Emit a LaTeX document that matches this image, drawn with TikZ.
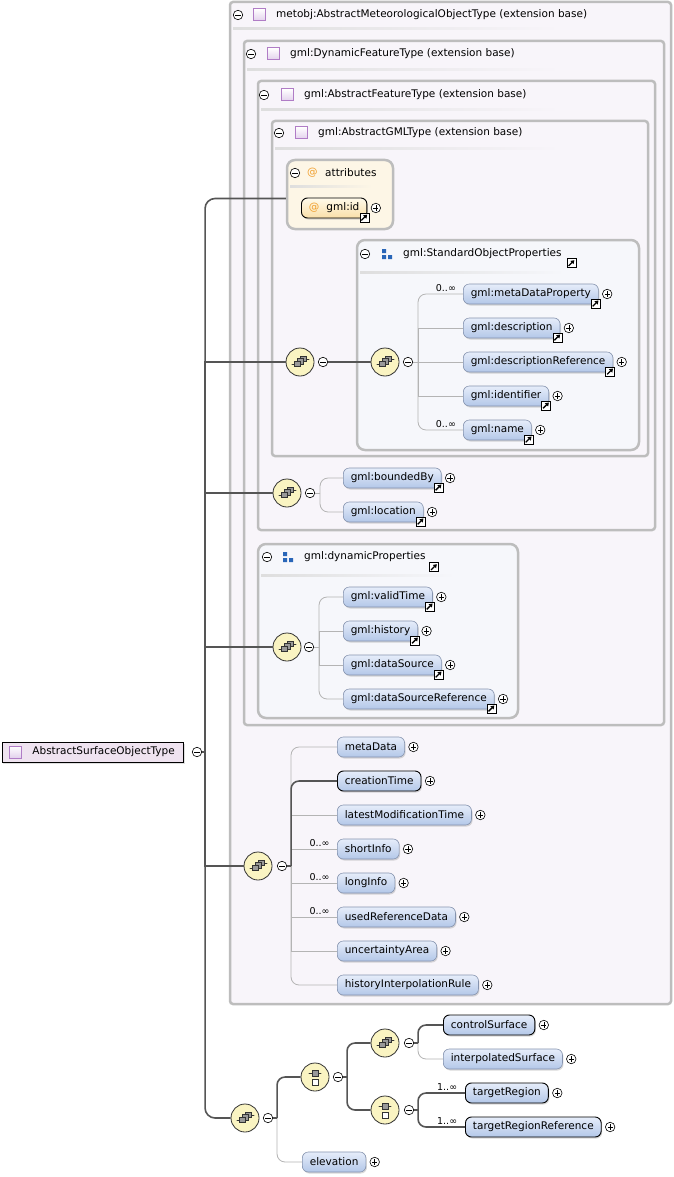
\documentclass[tikz,border=0pt]{standalone}
\usepackage{fontspec}
\setmainfont{DejaVu Sans}
\usetikzlibrary{shadows,arrows.meta}

\definecolor{boxfill}{HTML}{F8F5FA}
\definecolor{boxline}{HTML}{BDBDBD}
\definecolor{grpfill}{HTML}{F6F7FB}
\definecolor{attrfill}{HTML}{FDF6E6}
\definecolor{elemtop}{HTML}{E6EDFA}
\definecolor{elembot}{HTML}{B3C7E8}
\definecolor{elemline}{HTML}{8593AE}
\definecolor{idtop}{HTML}{FFFAEA}
\definecolor{idbot}{HTML}{FADFA8}
\definecolor{seqfill}{HTML}{FAF4C2}
\definecolor{typeline}{HTML}{B07CC6}
\definecolor{typefill}{HTML}{E2D0EC}
\definecolor{rootfill}{HTML}{EFE3F0}
\definecolor{grpblue}{HTML}{2966B8}
\definecolor{attrorange}{HTML}{F0A030}
\definecolor{reqline}{HTML}{555555}
\definecolor{optline}{HTML}{B4B4B4}

\begin{document}
\begin{tikzpicture}[x=1pt, y=-1pt, font=\fontsize{10.5}{12.6}\selectfont,
    cbox/.style={draw=boxline, line width=2.5pt, fill=boxfill, rounded corners=3pt, inner sep=0pt},
    gbox/.style={cbox, fill=grpfill, rounded corners=8pt},
    abox/.style={cbox, fill=attrfill, rounded corners=8pt},
    hdr/.style={anchor=west, inner sep=0pt},
    rootbox/.style={anchor=west, draw=black, line width=0.8pt, fill=rootfill, minimum height=20pt,
        inner xsep=9pt, inner ysep=0pt, drop shadow={shadow xshift=1pt, shadow yshift=-1.5pt, opacity=0.25}},
    elem/.style={anchor=west, draw=elemline, line width=0.6pt, rounded corners=6pt, top color=elemtop,
        bottom color=elembot, minimum height=20pt, inner xsep=7.5pt, inner ysep=0pt,
        drop shadow={shadow xshift=1pt, shadow yshift=-1.5pt, opacity=0.3}},
    reqelem/.style={elem, draw=black, line width=0.9pt},
    idelem/.style={reqelem, top color=idtop, bottom color=idbot},
    typeicon/.style={draw=typeline, line width=1pt, top color=white, bottom color=typefill,
        minimum size=12pt, inner sep=0pt},
    grpicon/.style={minimum size=12pt, inner sep=0pt, path picture={
        \begin{scope}[shift={(path picture bounding box.center)}, x=1pt, y=1pt]
          \fill[grpblue] (-5,1) rectangle (-1,5) (-5,-5) rectangle (-1,-1) (1,-5) rectangle (5,-1);
        \end{scope}}},
    pm/.style={circle, draw=black, line width=0.6pt, fill=white, minimum size=9.5pt, inner sep=0pt},
    plusmark/.style={pm, path picture={
        \begin{scope}[shift={(path picture bounding box.center)}, x=1pt, y=1pt]
          \draw[line width=0.6pt] (-2.6,0) -- (2.6,0) (0,-2.6) -- (0,2.6);
        \end{scope}}},
    minusmark/.style={pm, path picture={
        \begin{scope}[shift={(path picture bounding box.center)}, x=1pt, y=1pt]
          \draw[line width=0.7pt] (-2.6,0) -- (2.6,0);
        \end{scope}}},
    refmark/.style={draw=black, line width=0.6pt, fill=white, minimum size=9pt, inner sep=0pt, path picture={
        \begin{scope}[shift={(path picture bounding box.center)}, x=1pt, y=1pt]
          \draw[line width=1.3pt, -{Triangle[length=3.4pt, width=4.4pt]}] (-3,-3) -- (2.8,2.8);
        \end{scope}}},
    icon/.style={circle, draw=black!80, line width=0.8pt, fill=seqfill, minimum size=28pt, inner sep=0pt},
    seqicon/.style={icon, path picture={
        \begin{scope}[shift={(path picture bounding box.center)}, x=1pt, y=1pt]
          \draw[line width=0.6pt] (-9,-2) -- (-5,-2) (6,3) -- (10,3);
          \fill (-9,-2) circle (1.1) (10,3) circle (1.1);
          \draw[fill=black!40, line width=0.4pt] (0.5,0.5) rectangle ++(5.5,5.5);
          \draw[fill=black!40, line width=0.4pt] (-2.5,-2) rectangle ++(5.5,5.5);
          \draw[fill=black!40, line width=0.4pt] (-5.5,-4.5) rectangle ++(5.5,5.5);
        \end{scope}}},
    choiceicon/.style={icon, path picture={
        \begin{scope}[shift={(path picture bounding box.center)}, x=1pt, y=1pt]
          \draw[line width=0.6pt] (-7,4) -- (7,4);
          \fill (-7,4) circle (1.1) (7,4) circle (1.1);
          \draw[fill=black!40, line width=0.4pt] (-2.7,1.3) rectangle (2.7,6.7);
          \draw[fill=white, line width=0.5pt] (-3,-8) rectangle (3,-2.5);
        \end{scope}}},
    card/.style={font=\fontsize{9.5}{10}\selectfont, inner sep=2.2pt, pos=0.81, above},
    req/.style={draw=reqline, line width=1.6pt},
    opt/.style={draw=optline, line width=0.8pt}]

  \path[use as bounding box, fill=white] (0,0) rectangle (673,1177);

  % extension bases
  \node[cbox, minimum width=441pt, minimum height=1002pt] (metobj) at (450.5,503) {};
  \node[cbox, minimum width=420pt, minimum height=684pt] (dynFeat) at (454,383) {};
  \node[cbox, minimum width=397pt, minimum height=449pt] (absFeat) at (456.5,305.5) {};
  \node[cbox, minimum width=376pt, minimum height=335pt] (absGML) at (460,288.5) {};
  \node[abox, minimum width=106pt, minimum height=69pt] (attr) at (340,194.5) {};
  \node[gbox, minimum width=282pt, minimum height=210pt] (stdProps) at (498,345) {};
  \node[gbox, minimum width=260pt, minimum height=174pt] (dynProps) at (388,631) {};

  \shade[left color=black!13, right color=boxfill] (233,27.5) rectangle (560,29.5);
  \shade[left color=black!13, right color=boxfill] (247,68.5) rectangle (560,70.5);
  \shade[left color=black!13, right color=boxfill] (261,108.5) rectangle (560,110.5);
  \shade[left color=black!13, right color=boxfill] (275,147.5) rectangle (560,149.5);
  \shade[left color=black!13, right color=attrfill] (290,185.5) rectangle (372,187.5);
  \shade[left color=black!13, right color=grpfill] (360,271.5) rectangle (565,273.5);
  \shade[left color=black!13, right color=grpfill] (261,574.5) rectangle (455,576.5);

  \node[minusmark] (mMetobj) at (238,15) {};
  \node[typeicon] (iMetobj) at (259,15) {};
  \node[hdr] (hMetobj) at (276,15) {metobj:AbstractMeteorologicalObjectType (extension base)};
  \node[minusmark] (mDynFeat) at (251,54) {};
  \node[typeicon] (iDynFeat) at (273,54) {};
  \node[hdr] (hDynFeat) at (290,54) {gml:DynamicFeatureType (extension base)};
  \node[minusmark] (mAbsFeat) at (264,95) {};
  \node[typeicon] (iAbsFeat) at (287,95) {};
  \node[hdr] (hAbsFeat) at (304,95) {gml:AbstractFeatureType (extension base)};
  \node[minusmark] (mAbsGML) at (279,133) {};
  \node[typeicon] (iAbsGML) at (301,133) {};
  \node[hdr] (hAbsGML) at (318,133) {gml:AbstractGMLType (extension base)};
  \node[minusmark] (mAttr) at (295,173) {};
  \node[hdr, text=attrorange] (iAttr) at (307,173) {@};
  \node[hdr] (hAttr) at (325,173) {attributes};
  \node[minusmark] (mStdHdr) at (365,254) {};
  \node[grpicon] (iStd) at (387,254) {};
  \node[hdr] (hStd) at (403,254) {gml:StandardObjectProperties};
  \node[refmark] (rStd) at (571.5,263) {};
  \node[minusmark] (mDynHdr) at (267,557) {};
  \node[grpicon] (iDyn) at (288,557) {};
  \node[hdr] (hDyn) at (304,557) {gml:dynamicProperties};
  \node[refmark] (rDyn) at (434,567) {};

  % the type
  \node[rootbox] (root) at (2,752) {\hspace*{21pt}AbstractSurfaceObjectType};
  \node[typeicon] (iRoot) at (15,752) {};
  \node[minusmark] (mRoot) at (197,752) {};

  % compositors
  \node[seqicon] (seqGML) at (300,362) {};
  \node[minusmark] (mGML) at (323,362) {};
  \node[seqicon] (seqStd) at (385,362) {};
  \node[minusmark] (mStd) at (408,362) {};
  \node[seqicon] (seqBound) at (287,493) {};
  \node[minusmark] (mBound) at (310,493) {};
  \node[seqicon] (seqDyn) at (287,647) {};
  \node[minusmark] (mDyn) at (309,647) {};
  \node[seqicon] (seqMeta) at (258,866) {};
  \node[minusmark] (mMeta) at (282,866) {};
  \node[seqicon] (seqSurf) at (245,1118) {};
  \node[minusmark] (mSurf) at (268,1118) {};
  \node[choiceicon] (chSurf) at (315,1077) {};
  \node[minusmark] (mChSurf) at (338,1077) {};
  \node[seqicon] (seqCtrl) at (385,1043) {};
  \node[minusmark] (mCtrl) at (409,1043) {};
  \node[choiceicon] (chTarget) at (385,1110) {};
  \node[minusmark] (mTarget) at (409,1110) {};

  % elements
  \node[idelem] (gid) at (301,208) {\textcolor{attrorange}{@}\hspace{7pt}gml:id};
  \node[elem] (mdp) at (463,294) {gml:metaDataProperty};
  \node[elem] (desc) at (463,328) {gml:description};
  \node[elem] (descRef) at (463,362) {gml:descriptionReference};
  \node[elem] (ident) at (463,396) {gml:identifier};
  \node[elem] (gname) at (463,430) {gml:name};
  \node[elem] (bby) at (343,478) {gml:boundedBy};
  \node[elem] (loc) at (343,512) {gml:location};
  \node[elem] (vt) at (343,597) {gml:validTime};
  \node[elem] (hist) at (343,631) {gml:history};
  \node[elem] (ds) at (343,665) {gml:dataSource};
  \node[elem] (dsr) at (343,699) {gml:dataSourceReference};
  \node[elem] (mdata) at (337,747) {metaData};
  \node[reqelem] (ctime) at (337,781) {creationTime};
  \node[elem] (lmt) at (337,815) {latestModificationTime};
  \node[elem] (sinfo) at (337,849) {shortInfo};
  \node[elem] (linfo) at (337,883) {longInfo};
  \node[elem] (urd) at (337,917) {usedReferenceData};
  \node[elem] (uarea) at (337,951) {uncertaintyArea};
  \node[elem] (hir) at (337,985) {historyInterpolationRule};
  \node[reqelem] (ctrl) at (443,1025) {controlSurface};
  \node[elem] (interp) at (443,1059) {interpolatedSurface};
  \node[reqelem] (treg) at (465,1093) {targetRegion};
  \node[reqelem] (tregref) at (465,1127) {targetRegionReference};
  \node[elem] (elev) at (302,1162) {elevation};

  \foreach \n in {gid,mdp,desc,descRef,ident,gname,bby,loc,vt,hist,ds,dsr}
    \node[refmark] (\n-ref) at ([xshift=-3pt,yshift=1pt]\n.south east) {};
  \foreach \n in {gid,mdp,desc,descRef,ident,gname,bby,loc,vt,hist,ds,dsr,mdata,ctime,lmt,
      sinfo,linfo,urd,uarea,hir,ctrl,interp,treg,tregref,elev}
    \node[plusmark] (\n-plus) at ([xshift=8.5pt]\n.east) {};

  % main sequence
  \draw[req] (mRoot.east) -- ++(3,0);
  \draw[req, rounded corners=10pt] ([xshift=3pt]mRoot.east) |- ([yshift=-4pt]attr.west);
  \draw[req] ([xshift=3pt]mRoot.east) |- (seqGML.west);
  \draw[req] ([xshift=3pt]mRoot.east) |- (seqBound.west);
  \draw[req] ([xshift=3pt]mRoot.east) |- (seqDyn.west);
  \draw[req] ([xshift=3pt]mRoot.east) |- (seqMeta.west);
  \draw[req, rounded corners=10pt] ([xshift=3pt]mRoot.east) |- (seqSurf.west);
  \draw[req] (mGML.east) -- (seqStd.west);

  % gml:StandardObjectProperties
  \draw[opt] (mStd.east) -- (descRef.west);
  \draw[opt, rounded corners=8pt] ([xshift=5pt]mStd.east) |- node[card] {0..∞} (mdp.west);
  \draw[opt] ([xshift=5pt]mStd.east) |- (desc.west);
  \draw[opt] ([xshift=5pt]mStd.east) |- (ident.west);
  \draw[opt, rounded corners=8pt] ([xshift=5pt]mStd.east) |- node[card] {0..∞} (gname.west);

  % boundedBy, location
  \draw[opt] (mBound.east) -- ++(5,0);
  \draw[opt, rounded corners=8pt] ([xshift=5pt]mBound.east) |- (bby.west);
  \draw[opt, rounded corners=8pt] ([xshift=5pt]mBound.east) |- (loc.west);

  % gml:dynamicProperties
  \draw[opt] (mDyn.east) -- ++(5,0);
  \draw[opt, rounded corners=8pt] ([xshift=5pt]mDyn.east) |- (vt.west);
  \draw[opt] ([xshift=5pt]mDyn.east) |- (hist.west);
  \draw[opt] ([xshift=5pt]mDyn.east) |- (ds.west);
  \draw[opt, rounded corners=8pt] ([xshift=5pt]mDyn.east) |- (dsr.west);

  % own elements
  \draw[opt, rounded corners=8pt] ([xshift=4pt]mMeta.east) |- (mdata.west);
  \draw[opt] ([xshift=4pt]mMeta.east) |- (lmt.west);
  \draw[opt] ([xshift=4pt]mMeta.east) |- node[card] {0..∞} (sinfo.west);
  \draw[opt] ([xshift=4pt]mMeta.east) |- node[card] {0..∞} (linfo.west);
  \draw[opt] ([xshift=4pt]mMeta.east) |- node[card] {0..∞} (urd.west);
  \draw[opt] ([xshift=4pt]mMeta.east) |- (uarea.west);
  \draw[opt, rounded corners=8pt] ([xshift=4pt]mMeta.east) |- (hir.west);
  \draw[req] (mMeta.east) -- ++(4,0);
  \draw[req, rounded corners=8pt] ([xshift=4pt]mMeta.east) |- (ctime.west);

  % surface
  \draw[opt, rounded corners=8pt] ([xshift=4pt]mSurf.east) |- (elev.west);
  \draw[req] (mSurf.east) -- ++(4,0);
  \draw[req, rounded corners=8pt] ([xshift=4pt]mSurf.east) |- (chSurf.west);
  \draw[req] (mChSurf.east) -- ++(4,0);
  \draw[req, rounded corners=8pt] ([xshift=4pt]mChSurf.east) |- (seqCtrl.west);
  \draw[req, rounded corners=8pt] ([xshift=4pt]mChSurf.east) |- (chTarget.west);
  \draw[opt, rounded corners=8pt] ([xshift=4pt]mCtrl.east) |- (interp.west);
  \draw[req] (mCtrl.east) -- ++(4,0);
  \draw[req, rounded corners=8pt] ([xshift=4pt]mCtrl.east) |- (ctrl.west);
  \draw[req] (mTarget.east) -- ++(4,0);
  \draw[req, rounded corners=8pt] ([xshift=4pt]mTarget.east) |- node[card] {1..∞} (treg.west);
  \draw[req, rounded corners=8pt] ([xshift=4pt]mTarget.east) |- node[card] {1..∞} (tregref.west);
\end{tikzpicture}
\end{document}
